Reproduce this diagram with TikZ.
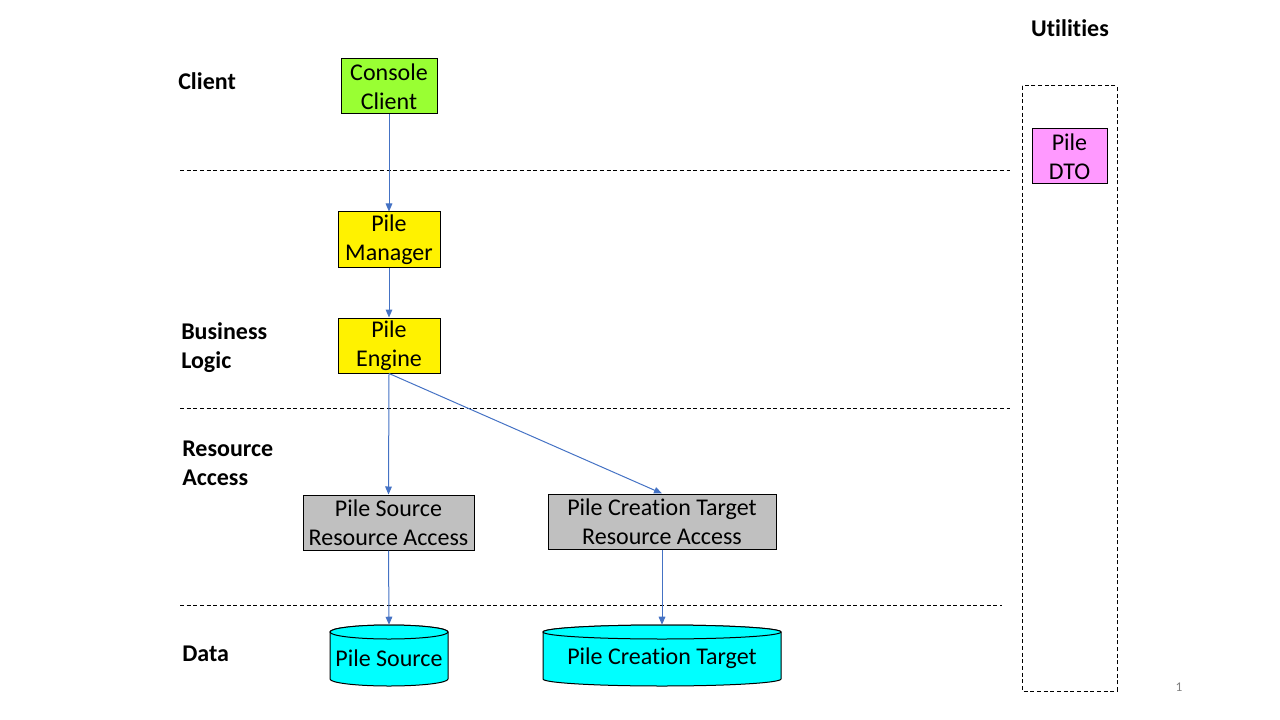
\documentclass[tikz,border=0pt]{standalone}
\usepackage{fontspec}
\setmainfont{Carlito}[Ligatures={NoCommon,NoContextual,NoRequired},RawFeature={-liga;-clig;-dlig;-calt}]
\usetikzlibrary{arrows.meta}
\definecolor{arrowblue}{RGB}{68,114,196}
\definecolor{clientgreen}{RGB}{153,255,51}
\definecolor{dtopink}{RGB}{255,153,255}
\definecolor{ragray}{RGB}{192,192,192}
\definecolor{datacyan}{RGB}{0,255,255}
\tikzset{
  px/.style={x=0.75pt,y=-0.75pt},
  box/.style={draw=black,line width=0.75pt,align=center,inner sep=0pt,
    minimum height=41.25pt,font=\fontsize{18}{21.6}\selectfont},
  lbl/.style={anchor=west,align=left,inner sep=0pt,font=\fontsize{18}{21.6}\selectfont\bfseries},
  sep/.style={draw=black,line width=0.75pt,dash pattern=on 3pt off 2pt},
  conn/.style={draw=arrowblue,line width=0.75pt,-{Triangle[length=6pt,width=5pt]}},
  cyl/.style={fill=datacyan,draw=black,line width=0.75pt},
  cyltext/.style={inner sep=0pt,font=\fontsize{18}{21.6}\selectfont}
}
\begin{document}
\begin{tikzpicture}[px]
\useasboundingbox (0,0) rectangle (1280,720);

% separators
\coordinate (s1a) at (180,171); \coordinate (s1b) at (1010,171);
\coordinate (s2a) at (180,408); \coordinate (s2b) at (1010,408);
\coordinate (s3a) at (180,605); \coordinate (s3b) at (1002,605);
\draw[sep] (s1a) -- (s1b);
\draw[sep] (s2a) -- (s2b);
\draw[sep] (s3a) -- (s3b);

% utilities dashed box
\coordinate (ua) at (1022,86); \coordinate (ub) at (1117,691);
\draw[sep] (ua) rectangle (ub);

% layer labels
\node[lbl] (lclient) at (178,81) {Client};
\node[lbl] (lbiz) at (181,347.5) {Business\\Logic};
\node[lbl] (lra) at (182,463.5) {Resource\\Access};
\node[lbl] (ldata) at (182,654) {Data};
\node[inner sep=0pt,font=\fontsize{18}{21.6}\selectfont\bfseries] (lutil) at (1070,28) {Ut\kern0pt ilit\kern0pt ies};

% boxes
\node[box,fill=clientgreen,minimum width=72pt] (cc) at (389,86.5) {Console\\Client};
\node[box,fill=yellow,minimum width=76.5pt] (pm) at (389,239.5) {Pile\\Manager};
\node[box,fill=yellow,minimum width=76.5pt] (pe) at (389,345.5) {Pile\\Engine};
\node[box,fill=ragray,minimum width=128.25pt] (psra) at (388.5,522.5) {Pile Source\\Resource Access};
\node[box,fill=ragray,minimum width=171pt] (pctra) at (662,521.5) {Pile Creat\kern0pt ion Target\\Resource Access};
\node[box,fill=dtopink,minimum width=56.25pt] (dto) at (1069.5,156.5) {Pile\\DTO};

% cylinders
\path[cyl] (330,632) -- (330,679) arc[start angle=180,end angle=0,x radius=59,y radius=7] -- (448,632) arc[start angle=0,end angle=-180,x radius=59,y radius=7] -- cycle;
\path[cyl] (389,632) ellipse[x radius=59,y radius=7];
\node[cyltext,minimum width=88.5pt,minimum height=45.75pt] (ps) at (389,655.5) {};
\node[cyltext] (pstext) at (389,658) {Pile Source};

\path[cyl] (543,632) -- (543,679) arc[start angle=180,end angle=0,x radius=119,y radius=7] -- (781,632) arc[start angle=0,end angle=-180,x radius=119,y radius=7] -- cycle;
\path[cyl] (662,632) ellipse[x radius=119,y radius=7];
\node[cyltext,minimum width=178.5pt,minimum height=45.75pt] (pct) at (662,655.5) {};
\node[cyltext] (pcttext) at (662,658) {Pile Creat\kern0pt ion Target};

% connectors
\draw[conn] (cc.south) -- (pm.north);
\draw[conn] (pm.south) -- (pe.north);
\draw[conn] (pe.south) -- (psra.north);
\draw[conn] (pe.south) -- (pctra.north);
\draw[conn] (psra.south) -- (ps.north);
\draw[conn] (pctra.south) -- (pct.north);

% page number
\node[inner sep=0pt,text=gray,font=\fontsize{10}{12}\selectfont] (pg) at (1179,687) {1};
\end{tikzpicture}
\end{document}
